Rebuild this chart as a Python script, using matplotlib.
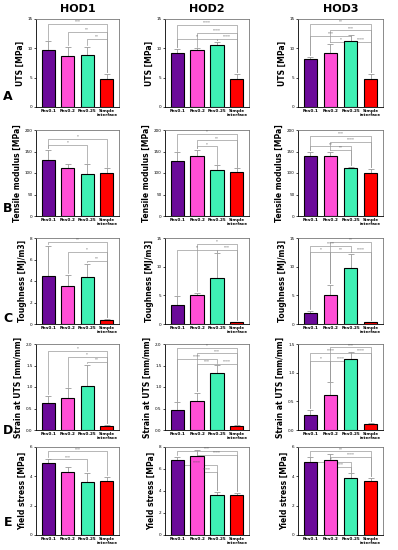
import numpy as np
import matplotlib
matplotlib.use('Agg')
import matplotlib.pyplot as plt

# groups and colours
groups = ['Res0.1', 'Res0.2', 'Res0.25', 'Simple\ninterface']
colors = ['#6B0A99', '#FF4FD6', '#3FF0B4', '#FF0000']
hods = ['HOD1', 'HOD2', 'HOD3']
row_letters = ['A', 'B', 'C', 'D', 'E']
ylabels = ['UTS [MPa]', 'Tensile modulus [MPa]', 'Toughness [MJ/m3]',
           'Strain at UTS [mm/mm]', 'Yield stress [MPa]']

# means, one list per HOD
uts_mean = [[9.7, 8.7, 8.9, 4.8], [9.2, 9.7, 10.5, 4.8], [8.2, 9.2, 11.2, 4.8]]
uts_err = [[1.5, 1.5, 1.4, 0.8], [0.7, 0.3, 0.6, 0.8], [0.3, 1.6, 1.1, 0.8]]
mod_mean = [[130, 112, 97, 101], [128, 140, 107, 102], [139, 140, 112, 101]]
mod_err = [[23, 9, 23, 10], [20, 14, 11, 9], [10, 10, 3, 9]]
tough_mean = [[4.5, 3.5, 4.4, 0.4], [3.4, 5.1, 8.0, 0.3], [2.0, 5.0, 9.8, 0.3]]
tough_err = [[2.8, 1.1, 1.2, 0.1], [1.4, 0.3, 4.3, 0.1], [0.3, 1.8, 2.4, 0.1]]
strain_mean = [[0.62, 0.74, 1.03, 0.10], [0.46, 0.67, 1.32, 0.09], [0.27, 0.61, 1.24, 0.10]]
strain_err = [[0.17, 0.23, 0.48, 0.02], [0.18, 0.20, 0.20, 0.02], [0.08, 0.22, 0.12, 0.02]]
yield_mean = [[4.9, 4.3, 3.6, 3.7], [6.8, 7.2, 3.6, 3.6], [5.0, 5.1, 3.9, 3.7]]
yield_err = [[0.3, 0.35, 0.65, 0.25], [0.3, 0.5, 0.3, 0.2], [0.3, 0.4, 0.3, 0.2]]

means = [uts_mean, mod_mean, tough_mean, strain_mean, yield_mean]
errs = [uts_err, mod_err, tough_err, strain_err, yield_err]

# axis maxima and tick steps
ymaxs = [[15, 15, 15], [200, 200, 200], [8, 15, 15], [2.0, 2.0, 1.5], [6, 8, 6]]
ysteps = [[5, 5, 5], [50, 50, 50], [2, 5, 5], [0.5, 0.5, 0.5], [2, 2, 2]]

# significance brackets: (bar i, bar j, height as fraction of axis, label)
brackets = [
    [[(0, 3, 0.94, '***'), (1, 3, 0.855, '**'), (2, 3, 0.77, '**')],
     [(0, 3, 0.93, '****'), (1, 3, 0.84, '****'), (0, 2, 0.77, '*'), (2, 3, 0.77, '****')],
     [(0, 3, 0.94, '**'), (1, 3, 0.87, '***'), (0, 2, 0.81, '***'), (1, 2, 0.74, '*'), (2, 3, 0.74, '****')]],
    [[(0, 3, 0.90, '*'), (0, 2, 0.83, '*')],
     [(0, 3, 0.95, '*'), (1, 3, 0.88, '**'), (1, 2, 0.81, '*')],
     [(0, 3, 0.93, '***'), (1, 3, 0.86, '****'), (0, 2, 0.81, '**'), (1, 2, 0.77, '**')]],
    [[(0, 3, 0.95, '**'), (1, 3, 0.84, '*'), (2, 3, 0.73, '**')],
     [(1, 3, 0.93, '*'), (0, 2, 0.86, '*'), (2, 3, 0.86, '***')],
     [(1, 3, 0.95, '**'), (0, 2, 0.91, '****'), (0, 1, 0.84, '*'), (1, 2, 0.84, '**'), (2, 3, 0.84, '****')]],
    [[(0, 3, 0.92, '*'), (1, 3, 0.85, '*'), (2, 3, 0.79, '**')],
     [(0, 3, 0.95, '*'), (1, 3, 0.89, '***'), (0, 2, 0.83, '****'), (1, 2, 0.77, '***'), (2, 3, 0.77, '****')],
     [(1, 3, 0.96, '***'), (0, 2, 0.90, '****'), (2, 3, 0.90, '****'), (0, 1, 0.80, '*'), (1, 2, 0.80, '****')]],
    [[(0, 3, 0.95, '***'), (0, 2, 0.86, '***')],
     [(0, 3, 0.96, '***'), (1, 3, 0.91, '****'), (0, 2, 0.80, '****'), (1, 2, 0.72, '****')],
     [(0, 3, 0.95, '**'), (1, 3, 0.89, '****'), (0, 2, 0.83, '*'), (1, 2, 0.77, '***')]],
]

W, H = 398, 550
col_px = [(36, 119), (165, 249), (298, 383)]
row_px = [(19, 107), (130, 216), (238, 324), (344, 430), (447, 535)]
grey = '#9a9a9a'

fig = plt.figure(figsize=(W / 100, H / 100), dpi=100)
x = np.arange(len(groups))

for r in range(5):
    for c in range(3):
        x0, x1 = col_px[c]
        y0, y1 = row_px[r]
        ax = fig.add_axes([x0 / W, 1 - y1 / H, (x1 - x0) / W, (y1 - y0) / H])
        m = np.array(means[r][c], dtype=float)
        e = np.array(errs[r][c], dtype=float)
        ymax = ymaxs[r][c]
        ax.bar(x, m, width=0.67, color=colors, edgecolor='black', linewidth=0.8, zorder=3)
        ax.errorbar(x, m, yerr=[np.zeros_like(e), e], fmt='none', ecolor=grey,
                    elinewidth=0.6, capsize=2, capthick=0.6, zorder=2)
        # brackets
        for (i, j, frac, lab) in brackets[r][c]:
            lev = frac * ymax
            gap = 0.02 * ymax
            bi = min(m[i] + e[i] + gap, lev)
            bj = min(m[j] + e[j] + gap, lev)
            ax.plot([x[i], x[i], x[j], x[j]], [bi, lev, lev, bj], color=grey,
                    lw=0.5, zorder=1, clip_on=False)
            ax.text((x[i] + x[j]) / 2, lev + 0.005 * ymax, lab, ha='center', va='bottom',
                    fontsize=2.8, color='#555555')
        ax.set_xlim(-0.62, 3.62)
        ax.set_ylim(0, ymax)
        ticks = np.arange(0, ymax + 1e-9, ysteps[r][c])
        ax.set_yticks(ticks)
        if r == 3:
            ax.set_yticklabels(['%.1f' % t for t in ticks])
        else:
            ax.set_yticklabels(['%d' % t for t in ticks])
        ax.set_xticks(x)
        ax.set_xticklabels(groups, fontsize=3.0, fontweight='bold', linespacing=0.9)
        ax.tick_params(axis='y', labelsize=3, length=1.5, width=0.5, pad=1)
        ax.tick_params(axis='x', length=0, pad=1.5)
        for s in ax.spines.values():
            s.set_linewidth(0.6)
        for s in ['top', 'right']:
            ax.spines[s].set_color('#777777')
        ax.set_ylabel(ylabels[r], fontsize=5.5, fontweight='bold', labelpad=2)
        if r == 0:
            ax.set_title(hods[c], fontsize=8, fontweight='bold', pad=5)

# row letters
letter_y = [97, 208, 318, 430, 523]
for k, lt in enumerate(row_letters):
    fig.text(8 / W, 1 - letter_y[k] / H, lt, fontsize=9, fontweight='bold',
             ha='center', va='center')

fig.savefig('out.png', dpi=100)
